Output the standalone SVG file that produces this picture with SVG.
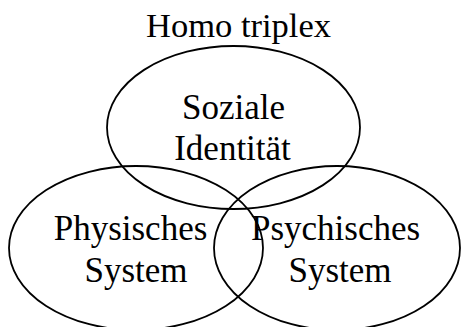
<svg xmlns="http://www.w3.org/2000/svg" width="461" height="327" viewBox="0 0 461 327">
<style>
.e{fill:none;stroke:#000;stroke-width:1.8}
.t{font-family:"Liberation Serif","Times New Roman",serif;font-size:35px;fill:#000;text-anchor:middle}
</style>
<rect width="461" height="327" fill="#fff"/>
<text class="t" x="238.5" y="37" style="font-size:34.5px">Homo triplex</text>
<g id="soziale">
<ellipse class="e" cx="233.5" cy="127.5" rx="126.5" ry="81.5"/>
<text class="t" x="233.5" y="119">Soziale</text>
<text class="t" x="232.5" y="160">Identität</text>
</g>
<g id="physisch">
<ellipse class="e" cx="136" cy="248" rx="127" ry="82"/>
<text class="t" x="130.5" y="240">Physisches</text>
<text class="t" x="136" y="282">System</text>
</g>
<g id="psychisch">
<ellipse class="e" cx="337" cy="248" rx="123" ry="82"/>
<text class="t" x="335.5" y="240">Psychisches</text>
<text class="t" x="340" y="282">System</text>
</g>
<g id="connectors"/>
</svg>
